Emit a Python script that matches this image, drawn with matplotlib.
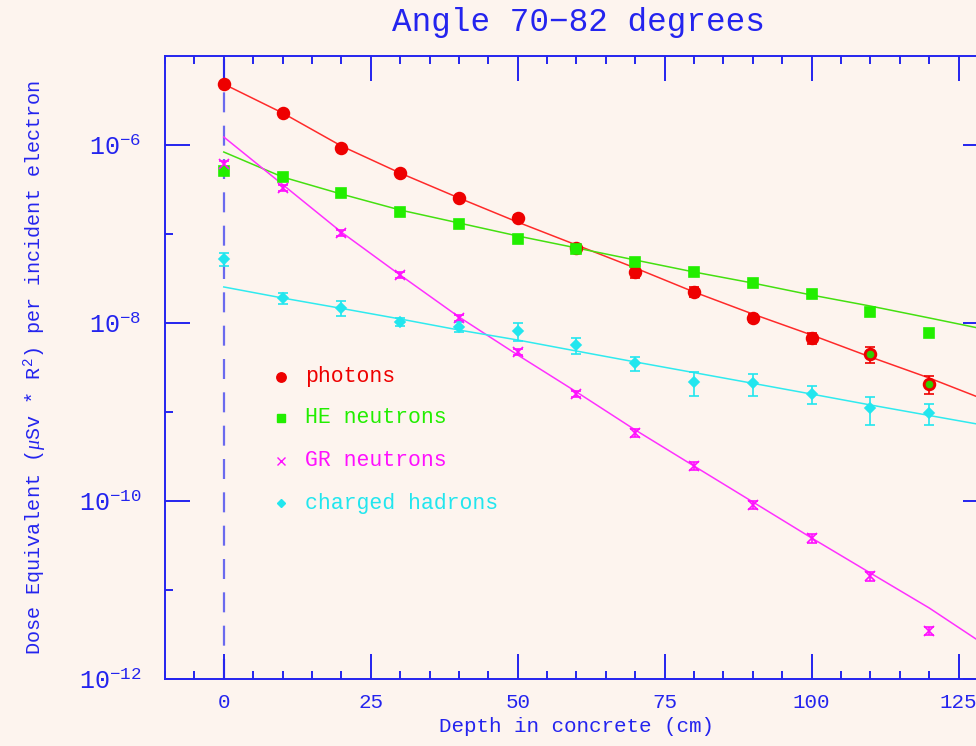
import numpy as np
import matplotlib
matplotlib.use("Agg")
import matplotlib.pyplot as plt
import matplotlib.ticker as mticker

# depth in concrete (cm)
depth = [0, 10, 20, 30, 40, 50, 60, 70, 80, 90, 100, 110, 120]

photons = [4.84e-6, 2.29e-6, 9.25e-7, 4.84e-7, 2.54e-7, 1.51e-7, 7.0e-8,
           3.77e-8, 2.25e-8, 1.15e-8, 6.84e-9, 4.49e-9, 2.05e-9]
photons_rel = [0.04, 0.04, 0.04, 0.04, 0.05, 0.07, 0.1,
               0.14, 0.13, 0.11, 0.14, 0.2, 0.23]

he_neutrons = [5.1e-7, 4.37e-7, 2.89e-7, 1.77e-7, 1.29e-7, 8.79e-8, 6.78e-8,
               4.8e-8, 3.77e-8, 2.79e-8, 2.1e-8, 1.32e-8, 7.73e-9]
he_rel = [0.03] * 13

gr_neutrons = [6.07e-7, 3.31e-7, 1.03e-7, 3.47e-8, 1.13e-8, 4.72e-9, 1.59e-9,
               5.84e-10, 2.47e-10, 9.02e-11, 3.81e-11, 1.44e-11, 3.47e-12]
gr_rel = [0.08, 0.08, 0.08, 0.08, 0.08, 0.08, 0.08,
          0.1, 0.1, 0.1, 0.12, 0.12, 0.1]

ch_hadrons = [5.2e-8, 1.9e-8, 1.49e-8, 1.03e-8, 9.1e-9, 8.1e-9, 5.66e-9,
              3.52e-9, 2.16e-9, 2.1e-9, 1.59e-9, 1.1e-9, 9.66e-10]
ch_rel = [0.17, 0.14, 0.2, 0.11, 0.14, 0.23, 0.2,
          0.18, 0.3, 0.28, 0.23, 0.35, 0.26]

# fitted curves
fit_x = [0, 10, 20, 30, 40, 50, 60, 70, 80, 90, 100, 110, 120, 130]
fit_photons = [4.84e-6, 2.29e-6, 9.75e-7, 4.84e-7, 2.54e-7, 1.36e-7, 7.52e-8,
               4.15e-8, 2.23e-8, 1.26e-8, 7.33e-9, 4.15e-9, 2.41e-9, 1.33e-9]
fit_he = [8.34e-7, 4.37e-7, 2.81e-7, 1.86e-7, 1.33e-7, 9.5e-8, 6.97e-8,
          5.1e-8, 3.74e-8, 2.81e-8, 2.06e-8, 1.55e-8, 1.14e-8, 8.34e-9]
fit_gr = [1.23e-6, 3.6e-7, 1.05e-7, 3.46e-8, 1.17e-8, 4.37e-9, 1.68e-9,
          6.28e-10, 2.47e-10, 9.75e-11, 3.84e-11, 1.55e-11, 6.28e-12, 2.29e-12]
fit_ch = [2.54e-8, 1.91e-8, 1.46e-8, 1.11e-8, 8.34e-9, 6.44e-9, 4.84e-9,
          3.65e-9, 2.77e-9, 2.1e-9, 1.59e-9, 1.2e-9, 9.14e-10, 6.97e-10]

labels = ["photons", "HE neutrons", "GR neutrons", "charged hadrons"]

blue = "#2424ee"
bg = "#fdf4ee"

plt.rcParams["font.family"] = ["Liberation Mono", "DejaVu Sans"]
plt.rcParams["mathtext.fontset"] = "custom"
plt.rcParams["mathtext.rm"] = "Liberation Mono"
plt.rcParams["mathtext.it"] = "Liberation Serif:italic"

fig = plt.figure(figsize=(9.76, 7.46), dpi=100, facecolor=bg)
ax = fig.add_axes([165 / 976, 67 / 746, 823 / 976, 623 / 746], facecolor=bg)

ax.axvline(0, color="#6a6aee", lw=1.6, dashes=(9, 6), zorder=1)

series = [
    (photons, photons_rel, fit_photons, "#ee0000", "#ff2a2a", "o", 8.5),
    (he_neutrons, he_rel, fit_he, "#22ee00", "#44e010", "s", 7.5),
    (gr_neutrons, gr_rel, fit_gr, "#ff10ff", "#ff30ff", "x", 6.5),
    (ch_hadrons, ch_rel, fit_ch, "#22e6ee", "#30eaee", "D", 5),
]

for vals, rel, fit, mc, lc, mk, ms in series:
    v = np.array(vals)
    err = v * np.array(rel)
    ax.plot(fit_x, fit, color=lc, lw=1.1, zorder=2)
    ax.errorbar(depth, v, yerr=err, fmt=mk, color=mc, ms=ms, mew=1.2,
                elinewidth=1.2, capsize=3.5, capthick=1.2, zorder=3)

# green centres visible in the last two photon points
ax.plot(depth[-2:], photons[-2:], "o", color="#33cc00", ms=4.5, zorder=4)

ax.set_yscale("log")
ax.set_xlim(-10, 130)
ax.set_ylim(1e-12, 1e-5)

ax.xaxis.set_major_locator(mticker.MultipleLocator(25))
ax.xaxis.set_minor_locator(mticker.MultipleLocator(5))
ax.yaxis.set_major_locator(mticker.FixedLocator([1e-12, 1e-10, 1e-8, 1e-6]))
ax.yaxis.set_minor_locator(mticker.FixedLocator([1e-11, 1e-9, 1e-7]))
ax.yaxis.set_major_formatter(mticker.FuncFormatter(
    lambda y, p: r"$10^{%d}$" % round(np.log10(y))))
ax.yaxis.set_minor_formatter(mticker.NullFormatter())

ax.tick_params(which="both", direction="in", top=True, right=True,
               color=blue, labelcolor=blue, labelsize=15, width=1.4)
ax.tick_params(which="major", length=18, pad=10)
ax.tick_params(which="minor", length=6)
ax.tick_params(axis="y", which="major", labelsize=18, pad=17)
for s in ax.spines.values():
    s.set_color(blue)
    s.set_linewidth(1.4)

ax.set_xlabel("Depth in concrete (cm)", color=blue, fontsize=15, labelpad=4)
ax.set_ylabel(r"Dose Equivalent ($\mu$Sv * R$^2$) per incident electron",
              color=blue, fontsize=14.5, labelpad=22)
fig.text(578 / 976, 1 - 22 / 746, "Angle 70\u221282 degrees", color=blue,
         fontsize=23.5, ha="center", va="center")

# hand-placed legend
leg_y = [0.485, 0.419, 0.350, 0.2825]
for (vals, rel, fit, mc, lc, mk, ms), lab, yy in zip(series, labels, leg_y):
    ax.plot([0.141], [yy], mk, color=mc, ms=ms * 0.8, mew=1.0,
            transform=ax.transAxes, clip_on=False)
    ax.text(0.170, yy, lab, color=mc, fontsize=15.5, va="center",
            transform=ax.transAxes)

fig.savefig("out.png", dpi=100, facecolor=bg)
